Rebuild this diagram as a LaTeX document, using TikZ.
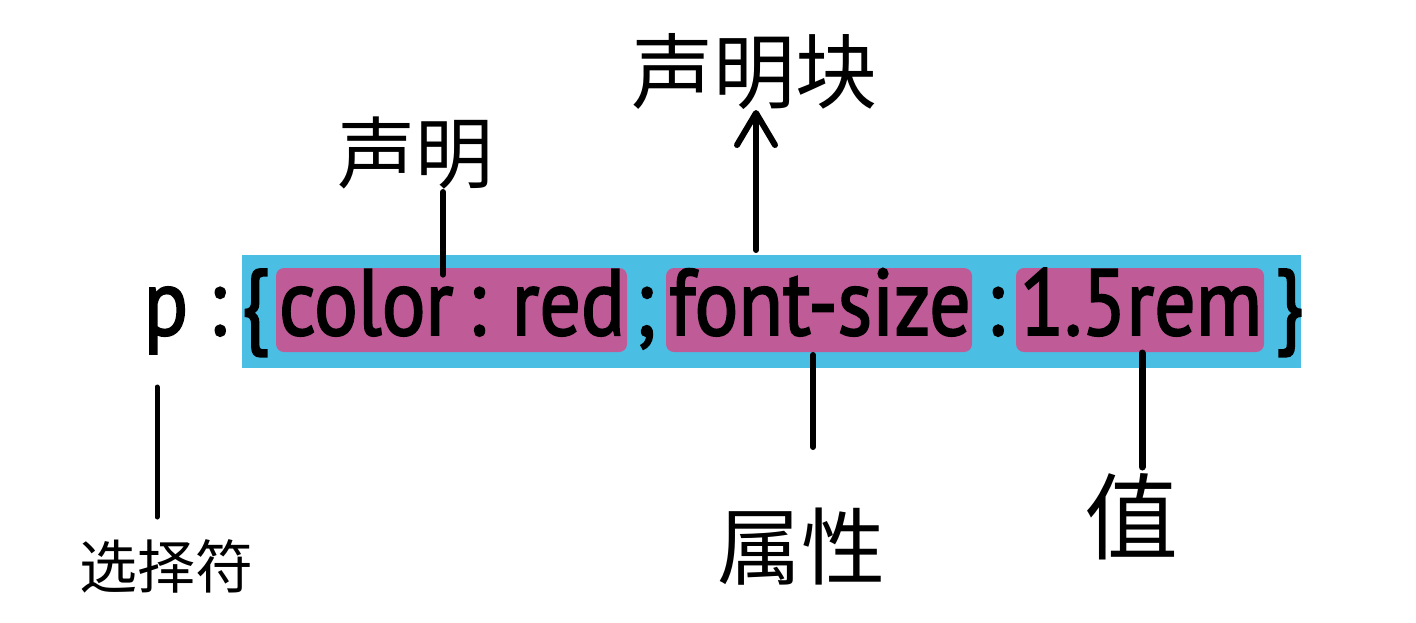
\documentclass[tikz,border=0pt]{standalone}
\usepackage{fontspec}
\setmainfont{PT Sans}
\newfontfamily\codefont{PT Sans}[FakeBold=2, FakeStretch=0.87]
\newfontfamily\cjk{Noto Sans CJK SC}
\usetikzlibrary{arrows.meta, positioning}
\definecolor{barblue}{RGB}{75,191,227}
\definecolor{declpink}{RGB}{191,91,150}

\begin{document}
\begin{tikzpicture}[x=0.5pt, y=-0.5pt,
	code/.style={font=\codefont\fontsize{47}{54}\selectfont, anchor=base, inner sep=0pt},
	decl/.style={fill=declpink, rounded corners=4pt, minimum height=42pt, inner sep=0pt},
	hand/.style={font=\cjk\fontsize{#1}{#1}\selectfont, inner sep=0pt},
	pen/.style={line width=3pt, line cap=round}]

		\useasboundingbox (0,0) rectangle (1416,622);

		% the rule
		\node[fill=barblue, minimum width=529.5pt, minimum height=56.5pt, inner sep=0pt] (bar) at (771.5,311.5) {};
		\node[decl, minimum width=175.5pt] (prop1) at (451.5,310) {};
		\node[decl, minimum width=153pt] (prop2) at (819,310) {};
		\node[decl, minimum width=124pt] (val2) at (1140,310) {};
		\node[code] (prop1txt) at (452,335) {color\hspace{0.15em}:\hspace{0.28em}red};
		\node[code] (prop2txt) at (820,335) {font-size};
		\node[code] (val2txt) at (1141,335) {1.5rem};
		\node[code] (sel) at (166,335) {p};
		\node[code] (colon1) at (217,335) {:};
		\node[code] (lbrace) at (255,335) {\{};
		\node[code] (semi) at (645,335) {;};
		\node[code] (colon2) at (995,335) {:};
		\node[code] (rbrace) at (1289,335) {\}};

		% labels
		\node[hand=29] (lsel) at (166,566) {选择符};
		\node[hand=39] (ldecl) at (415,153) {声明};
		\node[hand=41] (lblock) at (754,72) {声明块};
		\node[hand=42] (lprop) at (801,547) {属性};
		\node[hand=47] (lval) at (1131,517) {值};

		\coordinate (selA) at (157,387);
		\coordinate (selB) at (157,517);
		\coordinate (declA) at (443,192);
		\coordinate (blockA) at (756,250);
		\coordinate (blockB) at (756,110);
		\coordinate (propA) at (813,355);
		\coordinate (propB) at (813,447);
		\coordinate (valA) at (1142,353);
		\coordinate (valB) at (1142,467);

		\draw[pen, line width=2.5pt] (selA) -- (selB);
		\draw[pen, shorten >=-3.5pt] (declA) -- (declA |- prop1.north);
		\draw[pen, -{Straight Barb[length=16pt, width=19pt, round]}] (blockA) -- (blockB);
		\draw[pen] (propA) -- (propB);
		\draw[pen, line width=3.5pt] (valA) -- (valB);
\end{tikzpicture}
\end{document}
